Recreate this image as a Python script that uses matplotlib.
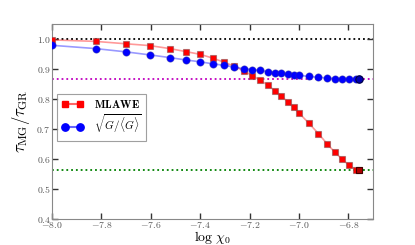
import numpy as np
import matplotlib
matplotlib.use("Agg")
import matplotlib.pyplot as plt
from matplotlib.ticker import FuncFormatter, MultipleLocator

# -------------------------
# Data
# -------------------------
log_chi0 = [-8.0, -7.823, -7.70, -7.604, -7.523, -7.458, -7.401, -7.348,
            -7.302, -7.261, -7.224, -7.189, -7.156, -7.126, -7.097, -7.071,
            -7.046, -7.022, -7.001, -6.960, -6.921, -6.887, -6.855, -6.824,
            -6.796, -6.768, -6.757]

ratio_mlawe = [0.997, 0.992, 0.984, 0.978, 0.968, 0.958, 0.949, 0.936,
               0.922, 0.909, 0.894, 0.878, 0.862, 0.846, 0.827, 0.809,
               0.791, 0.772, 0.754, 0.719, 0.684, 0.651, 0.622, 0.598,
               0.578, 0.563, 0.562]

ratio_sqrtG = [0.979, 0.968, 0.957, 0.947, 0.938, 0.930, 0.924, 0.917,
               0.912, 0.906, 0.901, 0.898, 0.895, 0.891, 0.888, 0.885,
               0.882, 0.880, 0.879, 0.875, 0.872, 0.870, 0.868, 0.867,
               0.866, 0.865, 0.865]

ref_levels = [1.0, 0.865, 0.562]
ref_colors = ["black", "m", "green"]

# -------------------------
# Style
# -------------------------
plt.rcParams["font.family"] = "serif"
plt.rcParams["mathtext.fontset"] = "cm"

fig = plt.figure(figsize=(4.15, 2.45), dpi=100)
ax = fig.add_axes([0.125, 0.107, 0.774, 0.795])

for lev, col in zip(ref_levels, ref_colors):
    ax.axhline(lev, linestyle=":", color=col, lw=1.3, zorder=1)

# MLAWE
ax.plot(log_chi0, ratio_mlawe, color=(1, 0, 0, 0.4), lw=1.2, zorder=2)
ax.plot(log_chi0, ratio_mlawe, ls="none", marker="s", ms=5,
        mfc="red", mec=(0.55, 0.3, 0.3, 0.6), mew=0.8, zorder=3)
ax.plot([], [], color=(1, 0, 0, 0.6), marker="s", ms=5, mfc="red",
        mec="red", label=r"$\mathbf{MLAWE}$")

# sqrt(G/<G>)
ax.plot(log_chi0, ratio_sqrtG, color=(0, 0, 1, 0.4), lw=1.2, zorder=2)
ax.plot(log_chi0, ratio_sqrtG, ls="none", marker="o", ms=5.3,
        mfc="blue", mec=(0.2, 0.2, 0.6, 0.5), mew=0.6, zorder=4)
ax.plot([], [], color=(0, 0, 1, 0.6), marker="o", ms=5.3, mfc="blue",
        mec="blue", label=r"$\sqrt{G/\langle G\rangle}$")

# last points drawn darker (overlapping markers in the original)
ax.plot(log_chi0[-1], ratio_mlawe[-1], ls="none", marker="s", ms=5,
        mfc="#b00000", mec="#400000", mew=0.8, zorder=5)
ax.plot(log_chi0[-1], ratio_sqrtG[-1], ls="none", marker="o", ms=5.3,
        mfc="#0000b0", mec="#000040", mew=0.8, zorder=5)

# -------------------------
# Axes
# -------------------------
ax.set_xlim(-8.0, -6.7)
ax.set_ylim(0.4, 1.05)
ax.xaxis.set_major_locator(MultipleLocator(0.2))
ax.yaxis.set_major_locator(MultipleLocator(0.1))
ax.xaxis.set_major_formatter(FuncFormatter(lambda v, p: r"$%.1f$" % v))
ax.yaxis.set_major_formatter(FuncFormatter(lambda v, p: r"$%.1f$" % v))

for s in ax.spines.values():
    s.set_color("#888888")
ax.tick_params(direction="in", top=True, right=True, length=4, width=1,
               color="#333333", labelsize=7, labelcolor="#555555", pad=0.8)

ax.set_xlabel(r"$\log\,\chi_0$", fontsize=10, labelpad=-0.5)
ax.set_ylabel(r"$\tau_{\rm MG}/\tau_{\rm GR}$", fontsize=12, labelpad=3)

leg = ax.legend(loc="lower left", bbox_to_anchor=(0.016, 0.4), numpoints=2,
                fancybox=False, edgecolor="#888888", fontsize=8,
                handlelength=2.0, handletextpad=0.9, borderpad=0.4,
                labelspacing=0.3, borderaxespad=0)
leg.get_frame().set_linewidth(0.8)

plt.savefig("out.png", dpi=100)
